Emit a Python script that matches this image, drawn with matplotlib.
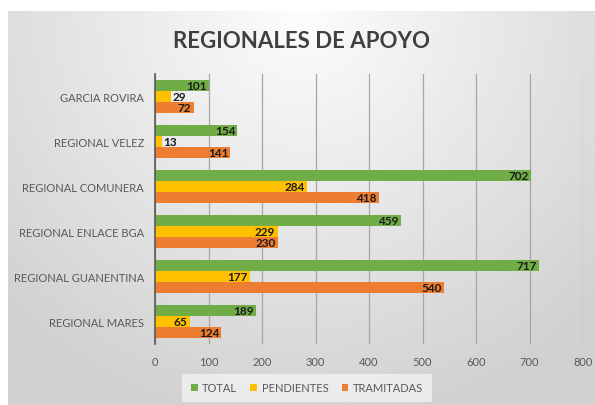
import numpy as np
import matplotlib.pyplot as plt

# --- datos ---
regionales = ["REGIONAL MARES", "REGIONAL GUANENTINA", "REGIONAL ENLACE BGA",
              "REGIONAL COMUNERA", "REGIONAL VELEZ", "GARCIA ROVIRA"]
total = [189, 717, 459, 702, 154, 101]
pendientes = [65, 177, 229, 284, 13, 29]
tramitadas = [124, 540, 230, 418, 141, 72]
xticks = [0, 100, 200, 300, 400, 500, 600, 700, 800]

c_total = '#70AD47'
c_pend = '#FFC000'
c_tram = '#ED7D31'

plt.rcParams['font.family'] = ['Lato', 'DejaVu Sans']

fig = plt.figure(figsize=(5.95, 4.06), dpi=100)
fig.patch.set_facecolor('white')

# fondo con degradado (gris en bordes, claro arriba al centro)
bg = fig.add_axes([8 / 595, 0, 1 - 8 / 595, 1 - 12 / 406])
yy, xx = np.mgrid[0:1:200j, 0:1:300j]
d = np.sqrt(((xx - 0.5) / 0.7) ** 2 + ((yy - 0.0) / 1.05) ** 2)
val = 0.99 - 0.17 * np.clip(d, 0, 1)
bg.imshow(val, cmap='gray', vmin=0, vmax=1, aspect='auto', extent=[0, 1, 1, 0])
bg.set_axis_off()

ax = fig.add_axes([155 / 595, 1 - 345 / 406, (583 - 155) / 595, (345 - 75) / 406])
ax.patch.set_alpha(0)

y = np.arange(len(regionales))
h = 0.255
ax.barh(y + h, total, height=h * 0.96, color=c_total, label='TOTAL', zorder=3)
ax.barh(y, pendientes, height=h * 0.96, color=c_pend, label='PENDIENTES', zorder=3)
ax.barh(y - h, tramitadas, height=h * 0.96, color=c_tram, label='TRAMITADAS', zorder=3)

for serie, off in [(total, h), (pendientes, 0), (tramitadas, -h)]:
    for i, v in enumerate(serie):
        if v < 40:
            ax.text(v + 3, y[i] + off, str(v), ha='left', va='center',
                    fontsize=8.5, fontweight='bold', color='#1a1a1a', zorder=4)
        else:
            ax.text(v - 4, y[i] + off, str(v), ha='right', va='center',
                    fontsize=8.5, fontweight='bold', color='#1a1a1a', zorder=4)

ax.set_xlim(0, 800)
ax.set_ylim(-0.5, len(regionales) - 0.5)
ax.set_xticks(xticks)
ax.set_yticks(y)
ax.set_yticklabels(regionales)
ax.tick_params(axis='both', length=0, labelsize=8, colors='#595959')
ax.tick_params(axis='x', pad=9)
ax.tick_params(axis='y', pad=8)
ax.grid(axis='x', color='#a6a6a6', lw=0.9, zorder=0)
for s in ['top', 'right', 'bottom']:
    ax.spines[s].set_visible(False)
ax.spines['left'].set_color('#595959')
ax.spines['left'].set_linewidth(1.2)
ax.spines['left'].set_zorder(5)

fig.text(0.5 + 8 / 595 / 2, 1 - 42 / 406, "REGIONALES DE APOYO", ha='center', va='center',
         fontsize=16, fontweight='bold', color='#404040')

leg = fig.legend(loc='center', bbox_to_anchor=(307 / 595, 1 - 389 / 406), ncol=3,
                 frameon=True, fontsize=8, handlelength=0.6, handleheight=0.6,
                 handletextpad=0.4, columnspacing=1.2, borderpad=0.5)
leg.get_frame().set_facecolor('#f2f2f2')
leg.get_frame().set_edgecolor('none')
leg.get_frame().set_alpha(0.8)
leg.get_frame().set_boxstyle('square')
for t in leg.get_texts():
    t.set_color('#595959')

plt.savefig('out.png', dpi=100)
